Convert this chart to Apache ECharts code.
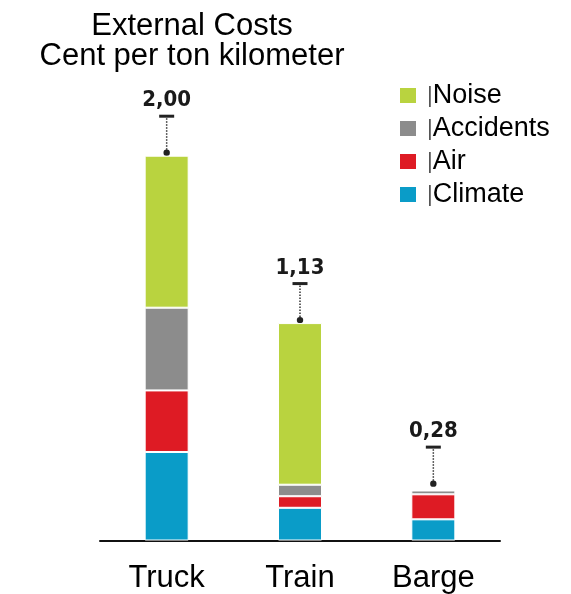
<!DOCTYPE html>
<html>
<head>
<meta charset="utf-8">
<script src="https://cdn.jsdelivr.net/npm/echarts@6/dist/echarts.min.js"></script>
<style>html,body{margin:0;padding:0;background:#fff}#c{width:571px;height:594px}</style>
</head>
<body>
<div id="c"></div>
<script>
const categories = ['Truck', 'Train', 'Barge'];
const climate = [0.46, 0.17, 0.11];
const air = [0.32, 0.06, 0.13];
const accidents = [0.43, 0.06, 0.02];
const noise = [0.79, 0.84, 0];
const totals = [2.00, 1.13, 0.28];
const totalLabels = ['2,00', '1,13', '0,28'];
const legendNames = ['Noise', 'Accidents', 'Air', 'Climate'];

const colors = { Noise: '#b9d33f', Accidents: '#8c8c8c', Air: '#de1b24', Climate: '#0a9cc8' };
const FONT = '"Liberation Sans", Arial, sans-serif';

function barSeries(name, data) {
  return {
    name, type: 'bar', stack: 'total', data, barWidth: 44,
    itemStyle: { color: colors[name], borderColor: '#ffffff', borderWidth: 1 },
    silent: true
  };
}

const chart = echarts.init(document.getElementById('c'), null, { renderer: 'canvas' });
chart.setOption({
  animation: false,
  backgroundColor: '#ffffff',
  title: {
    text: 'External Costs\nCent per ton kilometer',
    left: 187, top: 6, textAlign: 'center',
    textStyle: { fontFamily: FONT, fontSize: 31, fontWeight: 'normal', color: '#000', lineHeight: 30 }
  },
  legend: {
    data: legendNames,
    orient: 'vertical',
    left: 393, top: 77,
    itemWidth: 18, itemHeight: 17, itemGap: 6,
    icon: 'rect',
    formatter: n => '{b||}' + n,
    textStyle: {
      fontFamily: FONT, fontSize: 27, color: '#000', lineHeight: 26,
      rich: { b: { color: '#555', fontSize: 22, fontFamily: FONT, padding: [0, 0, 0, 5], lineHeight: 26 } }
    }
  },
  grid: { left: 100, right: 71, top: 59.5, bottom: 53.5 },
  xAxis: {
    type: 'category', data: categories,
    axisLine: { lineStyle: { color: '#111', width: 2 } },
    axisTick: { show: false },
    axisLabel: { fontFamily: FONT, fontSize: 31, color: '#000', margin: 22 }
  },
  yAxis: { type: 'value', min: 0, max: 2.5, show: false, splitLine: { show: false } },
  series: [
    barSeries('Climate', climate),
    barSeries('Air', air),
    barSeries('Accidents', accidents),
    barSeries('Noise', noise),
    {
      type: 'custom', name: 'totals', silent: true,
      data: totals.map((t, i) => [i, t]),
      renderItem: function (params, api) {
        const i = api.value(0);
        const p = api.coord([i, api.value(1)]);
        const x = p[0], y = p[1];
        return {
          type: 'group',
          children: [
            { type: 'line', shape: { x1: x, y1: y - 6, x2: x, y2: y - 38 },
              style: { stroke: '#333', lineWidth: 1.5, lineDash: [1.5, 1.5] } },
            { type: 'circle', shape: { cx: x, cy: y - 3, r: 3.2 }, style: { fill: '#222' } },
            { type: 'rect', shape: { x: x - 7.5, y: y - 41, width: 15, height: 3 }, style: { fill: '#222' } },
            { type: 'text', x: x, y: y - 55,
              style: { text: totalLabels[i], align: 'center', verticalAlign: 'middle',
                font: 'bold 22px "DejaVu Sans Condensed", "DejaVu Sans", sans-serif', fill: '#1a1a1a' } }
          ]
        };
      }
    }
  ]
});
</script>
</body>
</html>
